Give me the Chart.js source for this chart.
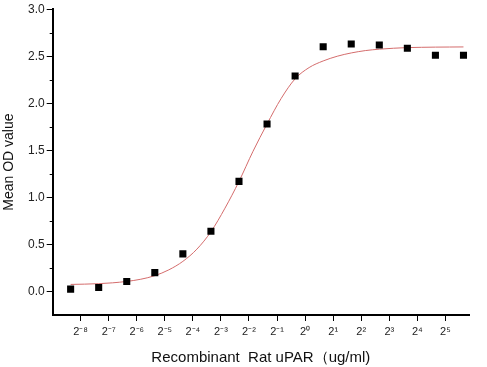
<!DOCTYPE html>
<html>
<head>
<meta charset="utf-8">
<script src="https://cdn.jsdelivr.net/npm/chart.js@4.4.0/dist/chart.umd.min.js"></script>
<style>
    html, body { margin: 0; padding: 0; background: #ffffff; }
    #div_grafico { width: 487px; height: 367px; position: relative; }
</style>
</head>
<body>
<div id="div_grafico"><canvas id="grafico"></canvas></div>
<script>
// concentracoes (ug/ml) - diluicao seriada 1:2 a partir de 50
const concentracoes = [0.0030518, 0.0061035, 0.012207, 0.024414, 0.048828, 0.097656, 0.19531,
    0.39063, 0.78125, 1.5625, 3.125, 6.25, 12.5, 25, 50];
const mediaOD = [0.025, 0.043, 0.106, 0.20, 0.40, 0.64, 1.17, 1.78, 2.29, 2.60, 2.63, 2.62, 2.585, 2.51, 2.51];

// curva ajustada
const curvaConc = [0.0030518, 0.0043159, 0.0061035, 0.0086317, 0.012207, 0.017263, 0.024414, 0.034527,
    0.048828, 0.069053, 0.097656, 0.13811, 0.19531, 0.27621, 0.39063, 0.55243, 0.78125, 1.1049,
    1.5625, 2.2097, 3.125, 4.4194, 6.25, 8.8388, 12.5, 17.678, 25, 35.355, 50];
const curvaOD = [0.075, 0.078, 0.083, 0.092, 0.107, 0.13, 0.168, 0.23, 0.32, 0.45, 0.635, 0.885,
    1.17, 1.49, 1.78, 2.05, 2.26, 2.38, 2.45, 2.50, 2.535, 2.56, 2.575, 2.585, 2.592, 2.595,
    2.597, 2.598, 2.599];

// expoentes das marcas do eixo x (2^n)
const expoentes = [-8, -7, -6, -5, -4, -3, -2, -1, 0, 1, 2, 3, 4, 5];

const sobrescrito = {'-': '\u207B', '0': '\u2070', '1': '\u00B9', '2': '\u00B2', '3': '\u00B3',
    '4': '\u2074', '5': '\u2075', '6': '\u2076', '7': '\u2077', '8': '\u2078', '9': '\u2079'};

function potencia(n) {
    return '2' + String(n).split('').map(c => sobrescrito[c]).join('');
}

// marcas menores do eixo y (mais curtas)
const marcasMenores = {
    id: 'marcasMenores',
    afterDraw(chart) {
        const escala = chart.scales.y;
        const ctx = chart.ctx;
        ctx.save();
        ctx.strokeStyle = '#000000';
        ctx.lineWidth = 1;
        escala.ticks.forEach(t => {
            if (t.value > 0 && Math.abs(t.value * 2 - Math.round(t.value * 2)) > 0.01) {
                const y = Math.round(escala.getPixelForValue(t.value)) + 0.5;
                ctx.beginPath();
                ctx.moveTo(escala.right - 3, y);
                ctx.lineTo(escala.right, y);
                ctx.stroke();
            }
        });
        ctx.restore();
    }
};

const fonte = "'Liberation Sans', Arial, sans-serif";

const grafico = new Chart(document.getElementById('grafico'), {
    type: 'scatter',
    data: {
        datasets: [{
            label: 'Mean OD',
            data: concentracoes.map((c, i) => ({x: c, y: mediaOD[i]})),
            pointStyle: 'rect',
            pointRadius: 5,
            pointHoverRadius: 5,
            backgroundColor: '#000000',
            borderColor: '#000000',
            borderWidth: 0,
            order: 1
        }, {
            label: 'Fit',
            type: 'line',
            data: curvaConc.map((c, i) => ({x: c, y: curvaOD[i]})),
            borderColor: 'rgb(212, 108, 108)',
            borderWidth: 1,
            pointRadius: 0,
            fill: false,
            cubicInterpolationMode: 'monotone',
            order: 2
        }]
    },
    options: {
        responsive: true,
        maintainAspectRatio: false,
        animation: false,
        layout: {
            padding: {left: 0, top: 9, right: 18, bottom: 0}
        },
        plugins: {
            legend: {display: false},
            tooltip: {enabled: false}
        },
        scales: {
            x: {
                type: 'logarithmic',
                min: 0.00196,
                max: 57.3,
                afterBuildTicks: (escala) => {
                    escala.ticks = expoentes.map(e => ({value: Math.pow(2, e)}));
                },
                afterFit: (escala) => { escala.height = 52; },
                grid: {
                    drawOnChartArea: false,
                    drawTicks: true,
                    tickLength: 6,
                    tickColor: '#000000',
                    tickWidth: 1
                },
                border: {display: true, color: '#000000', width: 2},
                ticks: {
                    autoSkip: false,
                    maxRotation: 0,
                    padding: 4,
                    color: '#222222',
                    font: {family: fonte, size: 11},
                    callback: (valor) => potencia(Math.round(Math.log2(valor)))
                },
                title: {
                    display: true,
                    text: 'Recombinant  Rat uPAR\uFF08ug/ml)',
                    color: '#111111',
                    font: {family: fonte, size: 15},
                    padding: {top: 0, bottom: 0}
                }
            },
            y: {
                min: -0.25,
                max: 3.0,
                afterFit: (escala) => { escala.width = 52.7; },
                grid: {
                    drawOnChartArea: false,
                    drawTicks: true,
                    tickLength: 6,
                    tickWidth: 1,
                    tickColor: (ctx) => {
                        const v = ctx.tick ? ctx.tick.value : 0;
                        return (v >= 0 && Math.abs(v * 2 - Math.round(v * 2)) < 0.01) ? '#000000' : 'rgba(0,0,0,0)';
                    }
                },
                border: {display: true, color: '#000000', width: 2},
                ticks: {
                    stepSize: 0.25,
                    padding: 2,
                    color: '#222222',
                    font: {family: fonte, size: 12},
                    callback: (valor) => {
                        if (valor < 0) return '';
                        if (Math.abs(valor * 2 - Math.round(valor * 2)) > 0.01) return '';
                        return valor.toFixed(1);
                    }
                },
                title: {
                    display: true,
                    text: 'Mean OD value',
                    color: '#111111',
                    font: {family: fonte, size: 14},
                    padding: {top: 1, bottom: 0}
                }
            }
        }
    },
    plugins: [marcasMenores]
});
</script>
</body>
</html>
